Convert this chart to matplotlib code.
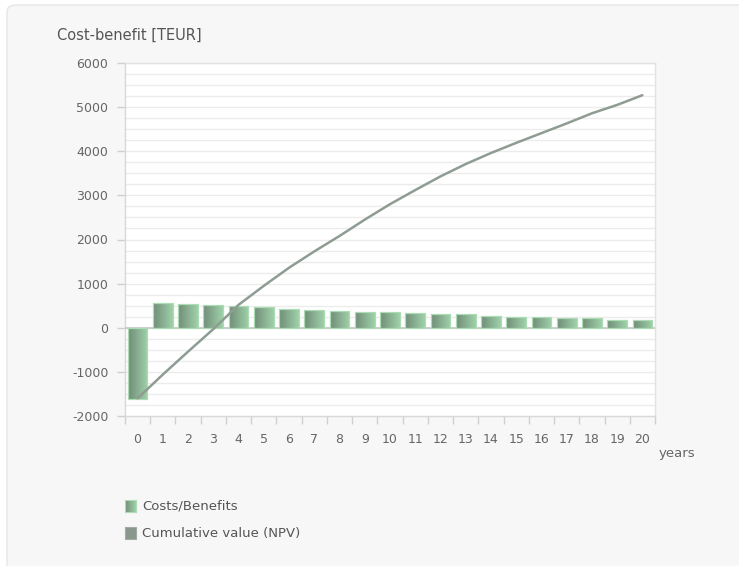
import numpy as np
import matplotlib
matplotlib.use("Agg")
import matplotlib.pyplot as plt
from matplotlib.patches import FancyBboxPatch, Rectangle
from matplotlib.colors import LinearSegmentedColormap
from matplotlib.ticker import MultipleLocator, FixedLocator

years = list(range(0, 21))
year_labels = [str(y) for y in years]
costs_benefits = [-1610, 567, 544, 513, 490, 460, 431, 408, 378, 354, 354,
                  324, 302, 302, 272, 241, 241, 211, 211, 181, 181]
npv = [-1600, -1060, -540, -30, 520, 950, 1360, 1730, 2080, 2450, 2800,
       3120, 3430, 3710, 3960, 4190, 4410, 4630, 4860, 5050, 5270]
y_ticks = [-2000, -1000, 0, 1000, 2000, 3000, 4000, 5000, 6000]

W, H = 739, 566
fig = plt.figure(figsize=(W / 100, H / 100), dpi=100)
fig.patch.set_facecolor("#ffffff")
panel = FancyBboxPatch((7 / W, -0.05), 1.0, 1.05 - 5 / H,
                       boxstyle="round,pad=0,rounding_size=0.012",
                       transform=fig.transFigure, facecolor="#f7f7f7",
                       edgecolor="#e6e6e6", linewidth=1.0, zorder=-10)
fig.patches.append(panel)

ax = fig.add_axes([125 / W, 1 - 416 / H, (655 - 125) / W, (416 - 63) / H])
ax.set_facecolor("white")

# gridlines
ax.yaxis.set_major_locator(FixedLocator(y_ticks))
ax.yaxis.set_minor_locator(MultipleLocator(250))
ax.grid(True, which="both", axis="y", color="#ececec", linewidth=1.0, zorder=0)
ax.set_axisbelow(True)
ax.axhline(0, color="#c4c4c4", linewidth=1.2, zorder=3)

cmap = LinearSegmentedColormap.from_list("g", ["#718c78", "#9fd2a9"])
grad = np.linspace(0, 1, 256).reshape(1, -1)
bars = ax.bar(years, costs_benefits, width=0.78, facecolor="none",
              edgecolor="#acdcb4", linewidth=0.9, zorder=4)
for b in bars:
    x0, y0 = b.get_x(), b.get_y()
    w, h = b.get_width(), b.get_height()
    im = ax.imshow(grad, cmap=cmap, aspect="auto",
                   extent=[x0, x0 + w, min(y0, y0 + h), max(y0, y0 + h)],
                   zorder=3.5, interpolation="antialiased")
    im.set_clip_path(b)
ax.set_xlim(-0.5, 20.5)
ax.set_ylim(-2000, 6000)

ax.plot(years, npv, color="#8f9c92", linewidth=1.8, zorder=5,
        solid_capstyle="round")

for s in ax.spines.values():
    s.set_color("#e2e2e2")
    s.set_linewidth(1.0)
ax.spines["bottom"].set_color("#d8d8d8")
ax.spines["left"].set_color("#d8d8d8")

ax.xaxis.set_major_locator(FixedLocator(np.arange(-0.5, 21, 1.0)))
ax.xaxis.set_minor_locator(FixedLocator(years))
ax.set_xticklabels([], minor=False)
ax.set_xticklabels(year_labels, minor=True)
ax.tick_params(axis="x", which="major", length=6, color="#cfcfcf", width=1)
ax.tick_params(axis="x", which="minor", length=0, pad=12,
               labelsize=9, labelcolor="#666666")
ax.set_yticklabels([str(v) for v in y_ticks])
ax.tick_params(axis="y", which="major", length=6, color="#cfcfcf", width=1,
               labelsize=9, labelcolor="#666666", pad=6)
ax.tick_params(axis="y", which="minor", length=0)

fig.text(57 / W, 1 - 35 / H, "Cost-benefit [TEUR]", fontsize=10.5,
         color="#555555", va="center", ha="left")
fig.text(659 / W, 1 - 453 / H, "years", fontsize=9.5, color="#666666",
         va="center", ha="left")

# legend
leg_items = [("Costs/Benefits", None), ("Cumulative value (NPV)", "#8a978c")]
for i, (label, col) in enumerate(leg_items):
    yc = 506 + i * 27
    lx, ly = 125 / W, 1 - (yc + 6) / H
    lw, lh = 11 / W, 12 / H
    if col is None:
        lax = fig.add_axes([lx, ly, lw, lh])
        lax.imshow(grad, cmap=cmap, aspect="auto", interpolation="antialiased")
        lax.set_xticks([]); lax.set_yticks([])
        for s in lax.spines.values():
            s.set_color("#acdcb4")
    else:
        fig.patches.append(Rectangle((lx, ly), lw, lh, transform=fig.transFigure,
                                     facecolor=col, edgecolor="#a0aba2",
                                     linewidth=0.8))
    fig.text(142 / W, 1 - yc / H, label, fontsize=9.5, color="#555555",
             va="center", ha="left")

fig.savefig("out.png", dpi=100, facecolor=fig.get_facecolor())
